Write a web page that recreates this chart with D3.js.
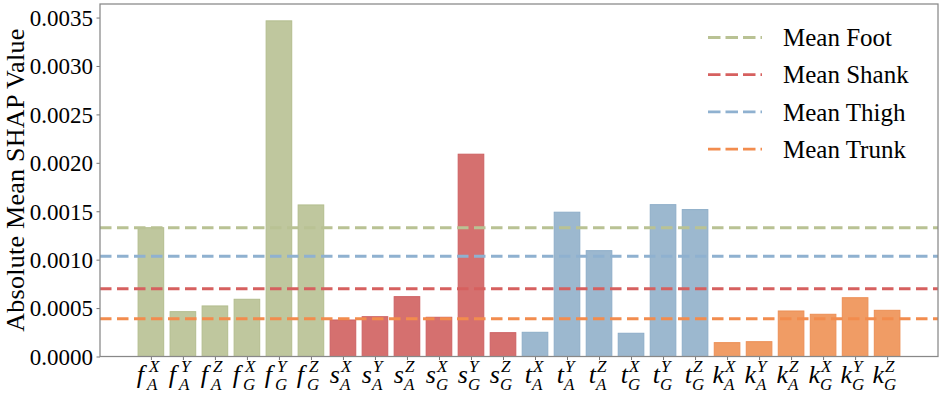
<!DOCTYPE html>
<html>
<head>
<meta charset="utf-8">
<script src="https://cdn.jsdelivr.net/npm/d3@7"></script>
<style>
  body { margin: 0; background: #fff; }
  text { font-family: "Liberation Serif", "DejaVu Serif", serif; fill: #000; }
</style>
</head>
<body>
<div id="chart"></div>
<script>
// Data
const letters = ['f', 'f', 'f', 'f', 'f', 'f', 's', 's', 's', 's', 's', 's',
  't', 't', 't', 't', 't', 't', 'k', 'k', 'k', 'k', 'k', 'k']
const subs = ['A', 'A', 'A', 'G', 'G', 'G', 'A', 'A', 'A', 'G', 'G', 'G',
  'A', 'A', 'A', 'G', 'G', 'G', 'A', 'A', 'A', 'G', 'G', 'G']
const sups = ['X', 'Y', 'Z', 'X', 'Y', 'Z', 'X', 'Y', 'Z', 'X', 'Y', 'Z',
  'X', 'Y', 'Z', 'X', 'Y', 'Z', 'X', 'Y', 'Z', 'X', 'Y', 'Z']
const footValues = [0.00133, 0.000463, 0.000522, 0.000591, 0.003466, 0.001565]
const shankValues = [0.000377, 0.000411, 0.000618, 0.000405, 0.002089, 0.000246]
const thighValues = [0.00025, 0.00149, 0.001093, 0.00024, 0.001568, 0.001517]
const trunkValues = [0.000143, 0.000153, 0.00047, 0.000436, 0.000607, 0.000477]
const groups = ['Foot', 'Shank', 'Thigh', 'Trunk']
const meanValues = [0.00133, 0.000699, 0.001036, 0.000389]
const yTicks = [0, 0.0005, 0.001, 0.0015, 0.002, 0.0025, 0.003, 0.0035]

const fills = ['#bfc79e', '#d5706f', '#9cb8cf', '#f09c65']
const edges = ['#b3bd8e', '#cd6062', '#8dadc8', '#ec8f55']
const lineColors = ['#b9c294', '#d6605f', '#8fb1d0', '#f28c4e']

const values = [footValues, shankValues, thighValues, trunkValues]
const bars = []
values.forEach((arr, g) => arr.forEach(v => bars.push({ v, g })))
bars.forEach((d, i) => { d.i = i; d.letter = letters[i]; d.sub = subs[i]; d.sup = sups[i] })

// Dimensions
const width = 943, height = 394
const margin = { top: 4, right: 5, bottom: 37.5, left: 100 }

const svg = d3.select('#chart').append('svg')
  .attr('width', width)
  .attr('height', height)

// scales
const x = d3.scaleLinear()
  .domain([-1.59, 24.59])
  .range([margin.left, width - margin.right])
const y = d3.scaleLinear()
  .domain([0, 0.00364])
  .range([height - margin.bottom, margin.top])
const barW = (x(0.4) - x(-0.4))

// bars
svg.append('g')
  .selectAll('rect')
  .data(bars)
  .join('rect')
  .attr('x', d => x(d.i - 0.4))
  .attr('width', barW)
  .attr('y', d => y(d.v))
  .attr('height', d => y(0) - y(d.v))
  .attr('fill', d => fills[d.g])
  .attr('stroke', d => edges[d.g])
  .attr('stroke-width', 1)

// mean lines
svg.append('g')
  .selectAll('line')
  .data(meanValues)
  .join('line')
  .attr('x1', margin.left)
  .attr('x2', width - margin.right)
  .attr('y1', d => y(d))
  .attr('y2', d => y(d))
  .attr('stroke', (d, i) => lineColors[i])
  .attr('stroke-width', 3)
  .attr('stroke-dasharray', '11.5,5.5')

// axes
const yAxis = svg.append('g')
  .attr('transform', `translate(${margin.left},0)`)
  .call(d3.axisLeft(y).tickValues(yTicks).tickFormat(d3.format('.4f')).tickSize(3.5).tickPadding(3.5))
yAxis.select('.domain').remove()
yAxis.selectAll('line').attr('stroke', '#777')
yAxis.selectAll('text').attr('font-size', 23).attr('dy', '0.34em')

const xAxis = svg.append('g')
  .attr('transform', `translate(0,${y(0)})`)
  .call(d3.axisBottom(x).tickValues(d3.range(bars.length)).tickFormat('').tickSize(3.5))
xAxis.select('.domain').remove()
xAxis.selectAll('line').attr('stroke', '#777')

// x tick labels: letter with superscript and subscript
const lab = svg.append('g')
  .selectAll('g')
  .data(bars)
  .join('g')
  .attr('transform', d => `translate(${x(d.i)},0)`)
lab.append('text')
  .attr('x', d => d.letter === 'f' ? -7 : -3)
  .attr('y', 383)
  .attr('text-anchor', 'end')
  .attr('font-style', 'italic')
  .attr('font-size', 26)
  .text(d => d.letter)
lab.append('text')
  .attr('x', -2)
  .attr('y', 372)
  .attr('font-style', 'italic')
  .attr('font-size', 17)
  .text(d => d.sup)
lab.append('text')
  .attr('x', d => d.letter === 'f' ? -4 : -3)
  .attr('y', 390)
  .attr('font-style', 'italic')
  .attr('font-size', 17)
  .text(d => d.sub)

// frame
svg.append('rect')
  .attr('x', margin.left)
  .attr('y', margin.top)
  .attr('width', width - margin.right - margin.left)
  .attr('height', y(0) - margin.top)
  .attr('fill', 'none')
  .attr('stroke', '#888')
  .attr('stroke-width', 1.25)

// y label
svg.append('text')
  .attr('transform', `translate(24,${(margin.top + y(0)) / 2}) rotate(-90)`)
  .attr('text-anchor', 'middle')
  .attr('font-size', 26)
  .attr('textLength', 303)
  .attr('lengthAdjust', 'spacing')
  .text('Absolute Mean SHAP Value')

// legend
const leg = svg.append('g')
  .selectAll('g')
  .data(groups)
  .join('g')
  .attr('transform', (d, i) => `translate(708,${37.5 + i * 37.2})`)
leg.append('line')
  .attr('x1', 0)
  .attr('x2', 54)
  .attr('stroke', (d, i) => lineColors[i])
  .attr('stroke-width', 2.8)
  .attr('stroke-dasharray', '12.5,5')
leg.append('text')
  .attr('x', 75)
  .attr('dy', '0.35em')
  .attr('font-size', 25)
  .text(d => 'Mean ' + d)
</script>
</body>
</html>
